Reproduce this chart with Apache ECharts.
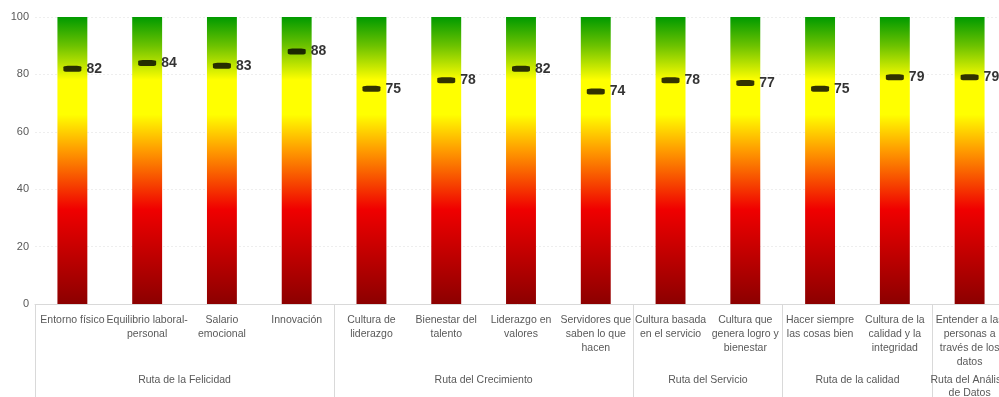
<!DOCTYPE html>
<html>
<head>
<meta charset="utf-8">
<script src="https://cdn.jsdelivr.net/npm/echarts@6/dist/echarts.min.js"></script>
<style>
html,body{margin:0;padding:0;background:#fff;}
#chart{width:999px;height:397px;}
</style>
</head>
<body>
<div id="chart"></div>
<script>
const categories = [
  "Entorno físico",
  "Equilibrio laboral-\npersonal",
  "Salario\nemocional",
  "Innovación",
  "Cultura de\nliderazgo",
  "Bienestar del\ntalento",
  "Liderazgo en\nvalores",
  "Servidores que\nsaben lo que\nhacen",
  "Cultura basada\nen el servicio",
  "Cultura que\ngenera logro y\nbienestar",
  "Hacer siempre\nlas cosas bien",
  "Cultura de la\ncalidad y la\nintegridad",
  "Entender a las\npersonas a\ntravés de los\ndatos"
];
const scores = [82, 84, 83, 88, 75, 78, 82, 74, 78, 77, 75, 79, 79];
const scaleMax = [100, 100, 100, 100, 100, 100, 100, 100, 100, 100, 100, 100, 100];
const groupNames = ["Ruta de la Felicidad", "Ruta del Crecimiento", "Ruta del Servicio", "Ruta de la calidad", "Ruta del Análisis\nde Datos"];
const groupSizes = [4, 4, 2, 2, 1];
const yTicks = [0, 20, 40, 60, 80, 100];

// group boundaries and centers in category units
const groupBounds = [0];
groupSizes.forEach(s => groupBounds.push(groupBounds[groupBounds.length - 1] + s));
const groupCenters = groupSizes.map((s, i) => groupBounds[i] + s / 2);

const FONT = "'Liberation Sans Narrow', 'Arial Narrow', 'Liberation Sans', Arial, sans-serif";
const chart = echarts.init(document.getElementById('chart'), null, {renderer: 'canvas'});

chart.setOption({
  animation: false,
  grid: {left: 35, right: -8, top: 17, bottom: 93, containLabel: false, outerBoundsMode: 'none'},
  xAxis: [
    {
      type: 'category',
      data: categories,
      position: 'bottom',
      axisLine: {show: true, lineStyle: {color: '#d9d9d9', width: 1}},
      axisTick: {show: false},
      axisLabel: {
        interval: 0, margin: 9, color: '#595959', fontSize: 10.5,
        fontFamily: FONT, lineHeight: 14, align: 'center', verticalAlign: 'top'
      }
    },
    {
      type: 'value',
      min: 0,
      max: groupBounds[groupBounds.length - 1],
      position: 'bottom',
      offset: 0,
      axisLine: {show: false},
      splitLine: {show: false},
      axisTick: {
        show: true, customValues: groupBounds, length: 100,
        lineStyle: {color: '#d9d9d9', width: 1}
      },
      axisLabel: {
        show: true, customValues: groupCenters, margin: 70,
        color: '#595959', fontSize: 10.5, fontFamily: FONT, lineHeight: 13,
        verticalAlign: 'top',
        formatter: function (v) {
          const i = groupCenters.indexOf(v);
          return i >= 0 ? groupNames[i] : '';
        }
      }
    }
  ],
  yAxis: {
    type: 'value',
    min: yTicks[0],
    max: yTicks[yTicks.length - 1],
    interval: 20,
    axisLine: {show: false},
    axisTick: {show: false},
    axisLabel: {color: '#595959', fontSize: 11, fontFamily: FONT, margin: 6},
    splitLine: {show: true, lineStyle: {color: '#eeeeee', type: [2, 2], width: 1}}
  },
  series: [
    {
      type: 'bar',
      xAxisIndex: 0,
      data: scaleMax,
      barWidth: '40%',
      itemStyle: {
        color: new echarts.graphic.LinearGradient(0, 0, 0, 1, [
          {offset: 0, color: '#009a00'},
          {offset: 0.1, color: '#6cc200'},
          {offset: 0.22, color: '#ffff00'},
          {offset: 0.34, color: '#ffff00'},
          {offset: 0.46, color: '#ff9f00'},
          {offset: 0.67, color: '#f00000'},
          {offset: 1, color: '#8c0000'}
        ])
      },
      silent: true
    },
    {
      type: 'scatter',
      xAxisIndex: 0,
      data: scores,
      symbol: 'roundRect',
      symbolSize: [18, 6],
      itemStyle: {color: '#000000'},
      z: 5,
      label: {
        show: true, position: 'right', distance: 5,
        color: '#000000', fontSize: 14, fontWeight: 'bold', fontFamily: FONT
      }
    }
  ]
});
</script>
</body>
</html>
